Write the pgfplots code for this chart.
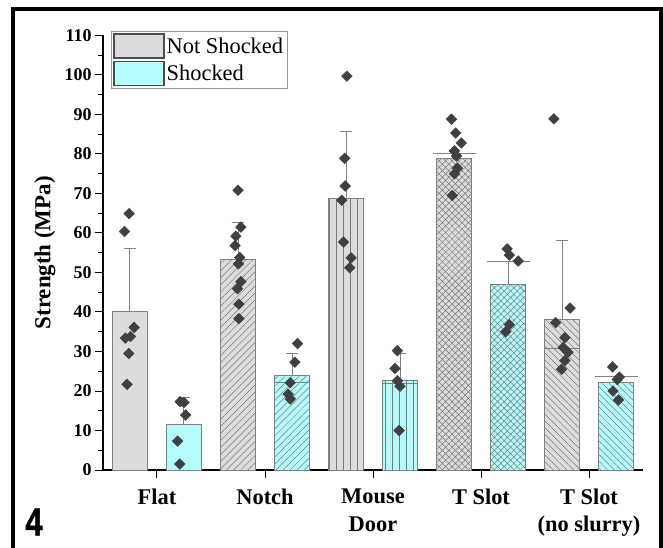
\documentclass[border=0pt]{standalone}
\usepackage{fontspec}
\setmainfont{Liberation Serif}
\newfontfamily\impactfont[FakeBold=1.5]{Liberation Sans Bold}
\usepackage{pgfplots}
\pgfplotsset{compat=1.18}
\usetikzlibrary{patterns.meta}
\definecolor{nsfill}{RGB}{220,220,220}
\definecolor{sfill}{RGB}{180,253,253}
\definecolor{edge}{RGB}{128,128,128}
\definecolor{patc}{RGB}{120,120,120}
\definecolor{dia}{RGB}{64,64,64}
\begin{document}
\begin{tikzpicture}
\begin{axis}[
  at={(0,0)}, anchor=south west, scale only axis,
  width=540bp, height=434.5bp,
  xmin=0.5, xmax=5.5, ymin=0, ymax=110,
  axis lines*=left, axis line style={line width=1.2bp, black},
  xtick={1,2,3,4,5},
  xticklabels={Flat,Notch,{Mouse\\Door},{T Slot},{T Slot\\(no slurry)}},
  ytick={0,10,...,110}, minor y tick num=1,
  tick align=outside, major tick length=8bp, minor tick length=5bp,
  tick style={black, line width=1bp},
  xticklabel style={font=\bfseries\fontsize{22.5}{28}\selectfont, align=center, yshift=-7bp},
  yticklabel style={font=\bfseries\fontsize{18}{18}\selectfont},
  /pgf/number format/assume math mode=true,
  ylabel={Strength (MPa)},
  every axis y label/.style={at={(axis description cs:-0.1075,0.5)}, rotate=90, anchor=center,
    font=\bfseries\fontsize{23}{23}\selectfont},
  legend style={at={(axis description cs:0.0148,1.0104)}, anchor=north west,
    draw=edge!80, line width=0.8bp, inner sep=2bp, row sep=2bp,
    font=\fontsize{22.5}{24}\selectfont, cells={anchor=west}},
  clip=false,
]
\addlegendimage{legend image code/.code={\draw[fill=nsfill, draw=black!70, line width=1.3bp] (0bp,-12bp) rectangle (50bp,12bp);}}
\addlegendentry{Not Shocked}
\addlegendimage{legend image code/.code={\draw[fill=sfill, draw=black!70, line width=1.3bp] (0bp,-12bp) rectangle (50bp,12bp);}}
\addlegendentry{Shocked}

% bars
\pgfplotsset{barbase/.style={ybar, bar width=0.32, bar shift=0, draw=edge, line width=1bp, forget plot}}
\addplot[barbase, fill=nsfill] coordinates {(0.75,40.0)};
\addplot[barbase, fill=sfill] coordinates {(1.25,11.4)};
\addplot[barbase, preaction={fill=nsfill}, pattern={Lines[angle=45,distance=5bp,line width=0.5bp]}, pattern color=patc] coordinates {(1.75,53.2)};
\addplot[barbase, preaction={fill=sfill}, pattern={Lines[angle=45,distance=5bp,line width=0.5bp]}, pattern color=patc] coordinates {(2.25,23.8)};
\addplot[barbase, preaction={fill=nsfill}, pattern={Lines[angle=90,distance=7bp,line width=0.5bp]}, pattern color=patc] coordinates {(2.75,68.8)};
\addplot[barbase, preaction={fill=sfill}, pattern={Lines[angle=90,distance=7bp,line width=0.5bp]}, pattern color=patc] coordinates {(3.25,22.6)};
\addplot[barbase, preaction={fill=nsfill}, pattern={Hatch[angle=45,distance=4.6bp,line width=0.5bp]}, pattern color=patc] coordinates {(3.75,78.8)};
\addplot[barbase, preaction={fill=sfill}, pattern={Hatch[angle=45,distance=4.6bp,line width=0.5bp]}, pattern color=patc] coordinates {(4.25,46.9)};
\addplot[barbase, preaction={fill=nsfill}, pattern={Lines[angle=-45,distance=4.8bp,line width=0.5bp]}, pattern color=patc] coordinates {(4.75,38.1)};
\addplot[barbase, preaction={fill=sfill}, pattern={Lines[angle=-45,distance=4.8bp,line width=0.5bp]}, pattern color=patc] coordinates {(5.25,22.2)};

% inner lines
\addplot[edge, line width=1bp, forget plot] coordinates {(2.09,22.2) (2.41,22.2)};
\addplot[edge, line width=1bp, forget plot] coordinates {(3.09,21.9) (3.41,21.9)};
\addplot[edge, line width=1bp, forget plot] coordinates {(4.59,30.8) (4.91,30.8)};

% error bars narrow caps
\addplot[draw=none, mark=none, forget plot,
  error bars/.cd, y dir=plus, y explicit,
  error bar style={draw=edge, line width=1bp},
  error mark options={rotate=90, draw=edge, mark size=6bp, line width=1bp}]
  coordinates {(0.75,40.0) +- (0,16.2) (1.25,11.4) +- (0,6.9) (1.75,53.2) +- (0,9.5)
    (2.25,23.8) +- (0,5.8) (2.75,68.8) +- (0,17.0) (3.25,22.6) +- (0,6.9) (4.75,38.1) +- (0,19.9)};
% error bars wide caps
\addplot[draw=none, mark=none, forget plot,
  error bars/.cd, y dir=plus, y explicit,
  error bar style={draw=edge, line width=1bp},
  error mark options={rotate=90, draw=edge, mark size=21.5bp, line width=1bp}]
  coordinates {(3.75,78.8) +- (0,1.2) (4.25,46.9) +- (0,6.0) (5.25,22.2) +- (0,1.4)};

% data points
\addplot[only marks, forget plot, mark=square*, mark size=3.8bp, mark options={rotate=45, fill=dia, draw=dia}]
coordinates {
(0.742,64.9) (0.699,60.4) (0.789,36.1) (0.754,33.8) (0.707,33.4) (0.738,29.5) (0.723,21.7)
(1.215,17.3) (1.250,17.1) (1.266,13.9) (1.191,7.3) (1.211,1.5)
(1.750,70.8) (1.777,61.5) (1.730,59.2) (1.723,56.8) (1.766,53.8) (1.754,52.2) (1.777,47.7) (1.746,45.9) (1.758,42.0) (1.758,38.3)
(2.301,32.0) (2.277,27.3) (2.234,22.1) (2.215,19.2) (2.234,18.0)
(2.758,99.7) (2.738,78.9) (2.742,71.9) (2.711,68.3) (2.727,57.7) (2.797,53.7) (2.785,51.2)
(3.226,30.2) (3.203,25.7) (3.226,22.6) (3.250,21.2) (3.242,10.0)
(3.726,88.8) (3.766,85.3) (3.817,82.8) (3.754,80.8) (3.774,79.5) (3.781,76.4) (3.754,75.0) (3.734,69.5)
(4.242,56.0) (4.262,54.4) (4.344,52.9) (4.262,36.8) (4.230,35.0)
(4.675,88.9) (4.825,41.0) (4.691,37.3) (4.777,33.5) (4.762,31.0) (4.805,29.8) (4.777,27.7) (4.746,25.5)
(5.219,26.1) (5.281,23.5) (5.262,22.9) (5.223,20.0) (5.273,17.7)
};
\end{axis}
\draw[line width=4bp, black] (-90bp,-120bp) -- (-90bp,461bp) -- (558bp,461bp) -- (558bp,-120bp);
\node[font=\impactfont\fontsize{39}{39}\selectfont, xscale=0.8, inner sep=0pt] at (-69bp,-52bp) {4};
\pgfresetboundingbox
\path[use as bounding box] (-103bp,-78bp) rectangle (560bp,470bp);
\end{tikzpicture}
\end{document}
